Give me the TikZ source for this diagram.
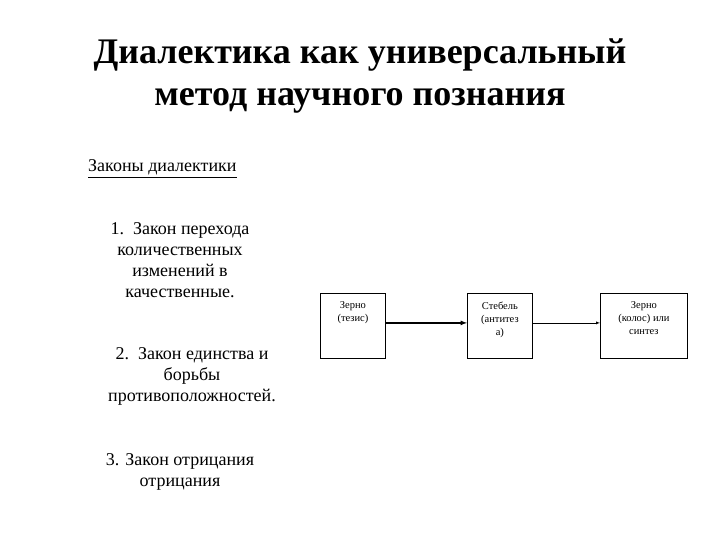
\documentclass[tikz,border=0pt]{standalone}
\usepackage{fontspec}
\setmainfont{Liberation Serif}
\begin{document}
\begin{tikzpicture}[x=1pt,y=-1pt,
  bx/.style={draw,thick,anchor=north west,inner sep=0pt},
  bt/.style={font=\fontsize{10.5}{13}\selectfont,align=center,anchor=north},
  lt/.style={font=\fontsize{18}{21}\selectfont,align=center},
  arr/.style={-latex}]
\useasboundingbox (0,0) rectangle (720,540);
\node[font=\bfseries\fontsize{36}{42}\selectfont,align=center] (title) at (360,76) {Диалектика как универсальный\\метод научного познания};
\node[font=\fontsize{18}{21}\selectfont,anchor=west,inner sep=0pt] (laws) at (88,167) {Законы диалектики};
\draw ([yshift=-2]laws.south west) -- ([yshift=-2]laws.south east);
\node[lt] (l1) at (180,260) {1.\ \ Закон перехода\\ количественных\\ изменений в\\ качественные.};
\node[lt] (l2) at (192,376) {2.\ \ Закон единства и\\борьбы\\противоположностей.};
\node[lt] (l3) at (180,472) {3. Закон отрицания\\ отрицания};
\node[bx,minimum width=65,minimum height=65] (b1) at (320,293) {};
\node[bx,minimum width=65,minimum height=65] (b2) at (467,293) {};
\node[bx,minimum width=87,minimum height=65] (b3) at (600,293) {};
\node[bt] at ([yshift=-5]b1.north) {Зерно\\(тезис)};
\node[bt] at ([yshift=-5]b2.north) {Стебель\\(антитез\\а)};
\node[bt] at ([yshift=-5]b3.north) {Зерно\\(колос) или\\синтез};
\draw[arr,line width=1.2pt] ([yshift=3]b1.east) -- ([yshift=3]b2.west);
\draw[arr] ([yshift=3]b2.east) -- ([yshift=3]b3.west);
\end{tikzpicture}
\end{document}
